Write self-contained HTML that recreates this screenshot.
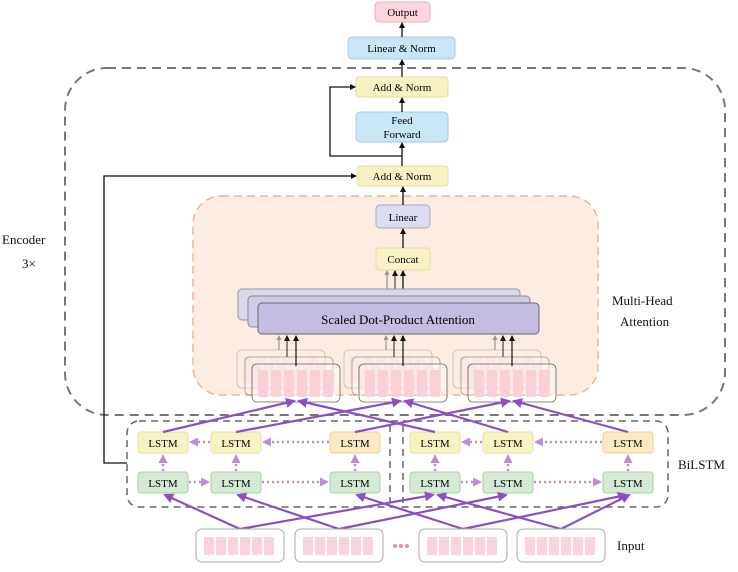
<!DOCTYPE html>
<html><head><meta charset="utf-8"><style>
html,body{margin:0;padding:0;background:#fff;}
svg{display:block;font-family:"Liberation Serif",serif;}
</style></head><body>
<svg width="738" height="572" viewBox="0 0 738 572" xmlns="http://www.w3.org/2000/svg">
<defs>
<marker id="ab" markerWidth="6" markerHeight="6" refX="5" refY="3" orient="auto" markerUnits="userSpaceOnUse"><path d="M0,0 L6,3 L0,6 z" fill="#111"/></marker>
<marker id="ap" markerWidth="10" markerHeight="10" refX="8" refY="5" orient="auto" markerUnits="userSpaceOnUse"><path d="M0,0 L10,5 L0,10 z" fill="#8a4fc4"/></marker>
<marker id="apl" markerWidth="9" markerHeight="9" refX="7" refY="4.5" orient="auto" markerUnits="userSpaceOnUse"><path d="M0,0 L9,4.5 L0,9 z" fill="#b78ed8"/></marker>
<marker id="ag" markerWidth="5" markerHeight="5" refX="4" refY="2.5" orient="auto" markerUnits="userSpaceOnUse"><path d="M0,0 L5,2.5 L0,5 z" fill="#999"/></marker>
<g id="bundle">
<rect x="0" y="0" width="88" height="38" rx="5" fill="#fff" fill-opacity="0.4" stroke="#666" stroke-width="0.8"/>
<rect x="6" y="6" width="10" height="27" rx="2" fill="#fbcfd6"/><rect x="19" y="6" width="10" height="27" rx="2" fill="#fbcfd6"/><rect x="32" y="6" width="10" height="27" rx="2" fill="#fbcfd6"/><rect x="45" y="6" width="10" height="27" rx="2" fill="#fbcfd6"/><rect x="58" y="6" width="10" height="27" rx="2" fill="#fbcfd6"/><rect x="71" y="6" width="10" height="27" rx="2" fill="#fbcfd6"/>
</g>
<g id="inbox">
<rect x="0" y="0" width="88" height="33" rx="6" fill="#fff" stroke="#aaa" stroke-width="1"/>
<rect x="8" y="8" width="10" height="18" rx="1" fill="#fbd3da"/><rect x="20" y="8" width="10" height="18" rx="1" fill="#fbd3da"/><rect x="32" y="8" width="10" height="18" rx="1" fill="#fbd3da"/><rect x="44" y="8" width="10" height="18" rx="1" fill="#fbd3da"/><rect x="56" y="8" width="10" height="18" rx="1" fill="#fbd3da"/><rect x="68" y="8" width="10" height="18" rx="1" fill="#fbd3da"/>
</g>
</defs>

<!-- Encoder box -->
<rect x="65" y="68" width="660" height="347" rx="42" fill="none" stroke="#777" stroke-width="2" stroke-dasharray="9,6"/>
<!-- Multi-head box -->
<rect x="193" y="196" width="405" height="199" rx="28" fill="#fcece1" stroke="#f5b48a" stroke-width="1.5" stroke-dasharray="8,5"/>

<!-- top boxes -->
<rect x="375" y="2" width="55" height="20" rx="4" fill="#fbd6dd" stroke="#e9b0bb"/>
<text x="402.5" y="16" font-size="11" text-anchor="middle">Output</text>
<rect x="348" y="37" width="107" height="22" rx="4" fill="#c9e6f7" stroke="#9fcbe6"/>
<text x="401.5" y="52" font-size="11" text-anchor="middle">Linear &amp; Norm</text>
<rect x="356" y="77" width="92" height="20" rx="3" fill="#f7f3c5" stroke="#e6dd9a"/>
<text x="402" y="91" font-size="11" text-anchor="middle">Add &amp; Norm</text>
<rect x="356" y="112" width="92" height="30" rx="4" fill="#c9e6f7" stroke="#9fcbe6"/>
<text x="402" y="124" font-size="11" text-anchor="middle">Feed</text>
<text x="402" y="138" font-size="11" text-anchor="middle">Forward</text>
<rect x="357" y="166" width="91" height="20" rx="3" fill="#f7f3c5" stroke="#e6dd9a"/>
<text x="402" y="180" font-size="11" text-anchor="middle">Add &amp; Norm</text>
<rect x="376" y="205" width="54" height="23" rx="4" fill="#dcdcf0" stroke="#aab"/>
<text x="403" y="221" font-size="11" text-anchor="middle">Linear</text>
<rect x="376" y="248" width="54" height="22" rx="3" fill="#f7f3c5" stroke="#e6dd9a"/>
<text x="403" y="263" font-size="11" text-anchor="middle">Concat</text>

<!-- black connectors -->
<g stroke="#111" stroke-width="1.3" fill="none">
<line x1="402" y1="37" x2="402" y2="23" marker-end="url(#ab)"/>
<line x1="402" y1="77" x2="402" y2="60" marker-end="url(#ab)"/>
<line x1="402" y1="112" x2="402" y2="98" marker-end="url(#ab)"/>
<line x1="402" y1="166" x2="402" y2="143" marker-end="url(#ab)"/>
<polyline points="402,156 330,156 330,87 355,87" marker-end="url(#ab)"/>
<line x1="403" y1="205" x2="403" y2="187" marker-end="url(#ab)"/>
<line x1="403" y1="248" x2="403" y2="229" marker-end="url(#ab)"/>
<polyline points="127,463 104,463 104,176 356,176" marker-end="url(#ab)"/>
<line x1="403" y1="303" x2="403" y2="271" marker-end="url(#ab)"/>
<line x1="395" y1="296" x2="395" y2="271" stroke="#555" marker-end="url(#ab)"/>
<line x1="387" y1="289" x2="387" y2="271" stroke="#999" marker-end="url(#ag)"/>
</g>

<!-- SDPA -->
<rect x="238" y="289" width="282" height="31" rx="4" fill="#dcd6ea" stroke="#999"/>
<rect x="248" y="296" width="282" height="31" rx="4" fill="#d2cbe7" stroke="#888"/>
<rect x="258" y="303" width="281" height="31" rx="4" fill="#c5bde0" stroke="#666"/>
<text x="398" y="324" font-size="13" text-anchor="middle">Scaled Dot-Product Attention</text>

<!-- bundles -->
<g opacity="0.35"><use href="#bundle" x="237" y="350"/><use href="#bundle" x="344" y="350"/><use href="#bundle" x="453" y="350"/></g>
<g opacity="0.6"><use href="#bundle" x="245" y="357"/><use href="#bundle" x="352" y="357"/><use href="#bundle" x="461" y="357"/></g>
<use href="#bundle" x="252" y="364"/><use href="#bundle" x="359" y="364"/><use href="#bundle" x="468" y="364"/>
<g stroke-width="1.2" fill="none">
<g stroke="#999"><line x1="279" y1="350" x2="279" y2="336" marker-end="url(#ag)"/><line x1="386" y1="350" x2="386" y2="336" marker-end="url(#ag)"/><line x1="495" y1="350" x2="495" y2="336" marker-end="url(#ag)"/></g>
<g stroke="#444"><line x1="287" y1="357" x2="287" y2="336" marker-end="url(#ab)"/><line x1="394" y1="357" x2="394" y2="336" marker-end="url(#ab)"/><line x1="503" y1="357" x2="503" y2="336" marker-end="url(#ab)"/></g>
<g stroke="#111"><line x1="296" y1="366" x2="296" y2="336" marker-end="url(#ab)"/><line x1="403" y1="366" x2="403" y2="336" marker-end="url(#ab)"/><line x1="512" y1="366" x2="512" y2="336" marker-end="url(#ab)"/></g>
</g>

<!-- BiLSTM -->
<rect x="127" y="421" width="541" height="86" rx="12" fill="none" stroke="#666" stroke-width="1.5" stroke-dasharray="7,5"/>
<line x1="390" y1="425" x2="390" y2="503" stroke="#666" stroke-width="1.5" stroke-dasharray="7,5"/>
<line x1="403" y1="425" x2="403" y2="503" stroke="#666" stroke-width="1.5" stroke-dasharray="7,5"/>

<g font-size="11" text-anchor="middle">
<g>
<rect x="138" y="432" width="50" height="21" rx="3" fill="#f7f3c5" stroke="#eedd9a"/><text x="163" y="447">LSTM</text>
<rect x="211" y="432" width="50" height="21" rx="3" fill="#f7f3c5" stroke="#eedd9a"/><text x="236" y="447">LSTM</text>
<rect x="330" y="432" width="50" height="21" rx="3" fill="#fde9c4" stroke="#f1cf8e"/><text x="355" y="447">LSTM</text>
<rect x="410" y="432" width="50" height="21" rx="3" fill="#f7f3c5" stroke="#eedd9a"/><text x="435" y="447">LSTM</text>
<rect x="483" y="432" width="50" height="21" rx="3" fill="#f7f3c5" stroke="#eedd9a"/><text x="508" y="447">LSTM</text>
<rect x="603" y="432" width="50" height="21" rx="3" fill="#fde9c4" stroke="#f1cf8e"/><text x="628" y="447">LSTM</text>
</g>
<g>
<rect x="138" y="472" width="50" height="21" rx="3" fill="#d4ead4" stroke="#a9cfa9"/><text x="163" y="487">LSTM</text>
<rect x="211" y="472" width="50" height="21" rx="3" fill="#d4ead4" stroke="#a9cfa9"/><text x="236" y="487">LSTM</text>
<rect x="330" y="472" width="50" height="21" rx="3" fill="#d4ead4" stroke="#a9cfa9"/><text x="355" y="487">LSTM</text>
<rect x="410" y="472" width="50" height="21" rx="3" fill="#d4ead4" stroke="#a9cfa9"/><text x="435" y="487">LSTM</text>
<rect x="483" y="472" width="50" height="21" rx="3" fill="#d4ead4" stroke="#a9cfa9"/><text x="508" y="487">LSTM</text>
<rect x="603" y="472" width="50" height="21" rx="3" fill="#d4ead4" stroke="#a9cfa9"/><text x="628" y="487">LSTM</text>
</g>
</g>

<!-- dotted lstm arrows -->
<g stroke="#b78ed8" stroke-width="2.5" stroke-dasharray="2,3" fill="none">
<line x1="210" y1="442" x2="191" y2="442" marker-end="url(#apl)"/>
<line x1="329" y1="442" x2="264" y2="442" marker-end="url(#apl)"/>
<line x1="482" y1="442" x2="463" y2="442" marker-end="url(#apl)"/>
<line x1="602" y1="442" x2="536" y2="442" marker-end="url(#apl)"/>
<line x1="189" y1="482" x2="208" y2="482" marker-end="url(#apl)"/>
<line x1="262" y1="482" x2="327" y2="482" marker-end="url(#apl)"/>
<line x1="461" y1="482" x2="480" y2="482" marker-end="url(#apl)"/>
<line x1="534" y1="482" x2="600" y2="482" marker-end="url(#apl)"/>
<line x1="163" y1="471" x2="163" y2="456" marker-end="url(#apl)"/>
<line x1="236" y1="471" x2="236" y2="456" marker-end="url(#apl)"/>
<line x1="355" y1="471" x2="355" y2="456" marker-end="url(#apl)"/>
<line x1="435" y1="471" x2="435" y2="456" marker-end="url(#apl)"/>
<line x1="508" y1="471" x2="508" y2="456" marker-end="url(#apl)"/>
<line x1="628" y1="471" x2="628" y2="456" marker-end="url(#apl)"/>
</g>

<!-- purple solid arrows -->
<g stroke="#8a4fc4" stroke-width="2.2" fill="none">
<line x1="163" y1="432" x2="294" y2="401" marker-end="url(#ap)"/>
<line x1="435" y1="432" x2="299" y2="401" marker-end="url(#ap)"/>
<line x1="236" y1="432" x2="400" y2="401" marker-end="url(#ap)"/>
<line x1="508" y1="432" x2="405" y2="401" marker-end="url(#ap)"/>
<line x1="355" y1="432" x2="509" y2="401" marker-end="url(#ap)"/>
<line x1="628" y1="432" x2="514" y2="401" marker-end="url(#ap)"/>
<line x1="240" y1="529" x2="165" y2="495" marker-end="url(#ap)"/>
<line x1="240" y1="529" x2="433" y2="495" marker-end="url(#ap)"/>
<line x1="339" y1="529" x2="238" y2="495" marker-end="url(#ap)"/>
<line x1="339" y1="529" x2="506" y2="495" marker-end="url(#ap)"/>
<line x1="463" y1="529" x2="357" y2="495" marker-end="url(#ap)"/>
<line x1="463" y1="529" x2="626" y2="495" marker-end="url(#ap)"/>
<line x1="561" y1="529" x2="438" y2="495" marker-end="url(#ap)"/>
<line x1="561" y1="529" x2="629" y2="495" marker-end="url(#ap)"/>
</g>

<!-- inputs -->
<use href="#inbox" x="196" y="529"/><use href="#inbox" x="295" y="529"/><use href="#inbox" x="419" y="529"/><use href="#inbox" x="517" y="529"/>
<circle cx="395" cy="546" r="2" fill="#f08aa0"/><circle cx="401" cy="546" r="2" fill="#f08aa0"/><circle cx="407" cy="546" r="2" fill="#f08aa0"/>

<!-- labels -->
<g font-size="13" fill="#111">
<text x="2" y="244">Encoder</text>
<text x="22" y="268">3×</text>
<text x="612" y="305">Multi-Head</text>
<text x="620" y="326">Attention</text>
<text x="678" y="469">BiLSTM</text>
<text x="617" y="550">Input</text>
</g>
</svg>
</body></html>
